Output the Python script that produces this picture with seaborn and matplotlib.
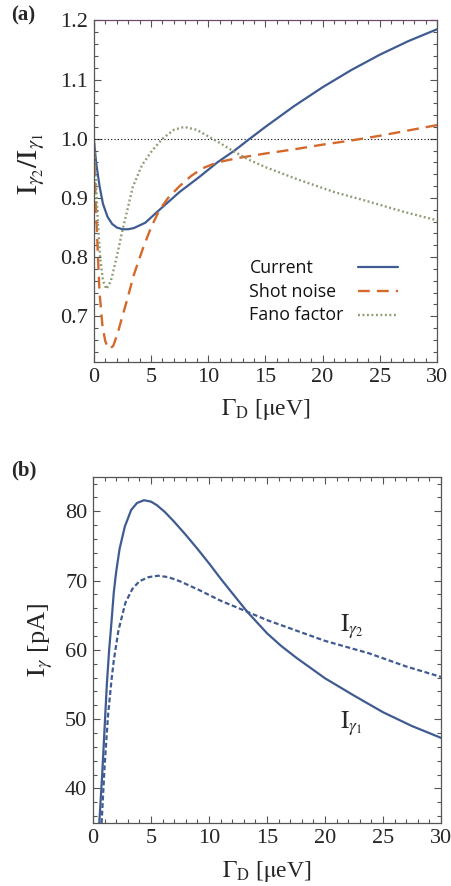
import numpy as np
import pandas as pd
import seaborn as sns
import matplotlib
matplotlib.use('Agg')
import matplotlib.pyplot as plt
from matplotlib.ticker import MultipleLocator, FormatStrFormatter

# ---------------- data ----------------
cur_x = [0, 0.2, 0.5, 0.8, 1.2, 1.6, 2.0, 2.5, 3.0, 3.5, 4.5, 5.75, 7.5, 9.2,
         10.8, 12.3, 13.5, 15, 17.5, 20, 22.5, 25, 27.5, 30]
cur_y = [1.0, 0.96, 0.92, 0.89, 0.868, 0.856, 0.85, 0.847, 0.847, 0.849, 0.858,
         0.88, 0.91, 0.935, 0.96, 0.98, 0.998, 1.02, 1.055, 1.087, 1.116, 1.142,
         1.165, 1.185]

sn_x = [0, 0.15, 0.3, 0.5, 0.75, 1.0, 1.2, 1.4, 1.7, 2.1, 2.5, 2.9, 3.5, 4.3,
        5.0, 5.75, 6.5, 7.5, 8.5, 9.5, 10.8, 12.5, 15, 17.5, 20, 22.5, 25, 27.5, 30]
sn_y = [0.99, 0.9, 0.83, 0.74, 0.685, 0.658, 0.648, 0.645, 0.65, 0.672, 0.7,
        0.727, 0.77, 0.815, 0.85, 0.88, 0.9, 0.92, 0.937, 0.95, 0.96, 0.967,
        0.975, 0.982, 0.99, 0.997, 1.005, 1.014, 1.023]

fa_x = [0, 0.15, 0.35, 0.55, 0.8, 1.1, 1.5, 2.0, 2.5, 3.0, 3.4, 4.2, 5.1, 6.0,
        7.0, 7.9, 9.0, 10.0, 11.0, 12.1, 13.5, 15, 18, 21, 23.8, 27, 30]
fa_y = [1.0, 0.94, 0.86, 0.8, 0.76, 0.746, 0.76, 0.8, 0.845, 0.885, 0.918, 0.955,
        0.98, 1.0, 1.015, 1.02, 1.015, 1.004, 0.993, 0.98, 0.965, 0.952, 0.93,
        0.91, 0.895, 0.877, 0.862]

g1_x = [0.55, 0.8, 1.0, 1.2, 1.4, 1.6, 1.8, 2.0, 2.3, 2.75, 3.3, 3.8, 4.4, 5.0,
        5.5, 6.2, 7.0, 8.0, 9.0, 10, 11, 12, 13.3, 15, 16.2, 17.5, 20, 22.5, 25,
        27.5, 30]
g1_y = [35, 42, 48.5, 55, 60, 64, 68.3, 71.2, 74.6, 77.8, 80.2, 81.2, 81.6, 81.4,
        80.9, 79.9, 78.5, 76.6, 74.6, 72.5, 70.3, 68.2, 65.5, 62.4, 60.6, 58.9,
        55.9, 53.4, 51.0, 49.0, 47.3]

g2_x = [0.75, 1.0, 1.3, 1.6, 1.8, 2.2, 2.8, 3.4, 4.0, 4.8, 5.6, 6.5, 7.5, 9.2,
        11, 13.3, 15, 17.5, 20, 23.8, 27, 30]
g2_y = [35, 43, 50.5, 55.6, 58.5, 62.8, 66.8, 68.8, 69.9, 70.5, 70.7, 70.5, 69.9,
        68.6, 67.1, 65.5, 64.3, 62.8, 61.3, 59.5, 57.6, 56.1]

legend_labels = ["Current", "Shot noise", "Fano factor"]

# ---------------- style ----------------
sns.set_theme(style='ticks')
plt.rcParams['font.family'] = ['Liberation Serif', 'DejaVu Serif']
plt.rcParams['mathtext.fontset'] = 'stix'

BLUE = '#3f5b92'
ORANGE = '#d5692c'
GREEN = '#8c9c74'
SPINE = '#555555'

fig = plt.figure(figsize=(4.51, 8.86), dpi=100)
axa = fig.add_axes([0.208, 0.591, 0.761, 0.386])
axb = fig.add_axes([0.206, 0.071, 0.772, 0.391])

df_cur = pd.DataFrame({'x': cur_x, 'y': cur_y})
df_sn = pd.DataFrame({'x': sn_x, 'y': sn_y})
df_fa = pd.DataFrame({'x': fa_x, 'y': fa_y})

axa.axhline(1.0, color='black', lw=0.8, ls=(0, (1, 2)), zorder=1)
sns.lineplot(data=df_cur, x='x', y='y', ax=axa, color=BLUE, lw=1.6,
             label=legend_labels[0], sort=False)
sns.lineplot(data=df_sn, x='x', y='y', ax=axa, color=ORANGE, lw=1.7,
             label=legend_labels[1], sort=False)
sns.lineplot(data=df_fa, x='x', y='y', ax=axa, color=GREEN, lw=1.7,
             label=legend_labels[2], sort=False)
lines = axa.get_lines()
lines[2].set_linestyle((0, (5, 3)))
lines[3].set_linestyle((0, (0.8, 1.1)))

axa.set_xlim(0, 30)
axa.set_ylim(0.622, 1.2)

df_g1 = pd.DataFrame({'x': g1_x, 'y': g1_y})
df_g2 = pd.DataFrame({'x': g2_x, 'y': g2_y})
sns.lineplot(data=df_g1, x='x', y='y', ax=axb, color=BLUE, lw=1.6, sort=False)
sns.lineplot(data=df_g2, x='x', y='y', ax=axb, color=BLUE, lw=1.6, sort=False)
axb.get_lines()[1].set_linestyle((0, (2.2, 1.2)))
axb.set_xlim(0, 30)
axb.set_ylim(35, 85)

for ax in (axa, axb):
    ax.xaxis.set_major_locator(MultipleLocator(5))
    ax.xaxis.set_minor_locator(MultipleLocator(1))
    ax.tick_params(which='both', direction='in', top=True, right=True,
                   color=SPINE, labelsize=16, width=0.8, pad=4)
    ax.tick_params(which='major', length=5)
    ax.tick_params(which='minor', length=2.8)
    for s in ax.spines.values():
        s.set_color(SPINE)
        s.set_linewidth(0.9)
    ax.set_xlabel(r'$\Gamma_{\mathrm{D}}$ [$\mathrm{\mu}$eV]', fontsize=17)

axa.spines['top'].set_color('#6a4a68')
axa.yaxis.set_major_locator(MultipleLocator(0.1))
axa.yaxis.set_minor_locator(MultipleLocator(0.02))
axa.yaxis.set_major_formatter(FormatStrFormatter('%.1f'))
axb.yaxis.set_major_locator(MultipleLocator(10))
axb.yaxis.set_minor_locator(MultipleLocator(2))

axa.set_ylabel(r'$\mathrm{I}_{\gamma_2}/\mathrm{I}_{\gamma_1}$', fontsize=21)
axb.set_ylabel(r'$\mathrm{I}_{\gamma}$ [pA]', fontsize=19)
axa.yaxis.set_label_coords(-0.135, 0.58)
axb.yaxis.set_label_coords(-0.11, 0.53)
axa.xaxis.set_label_coords(0.5, -0.10)
axb.xaxis.set_label_coords(0.5, -0.105)

# legend: labels as text, handles in a legend with blank labels
handles, _ = axa.get_legend_handles_labels()
leg = axa.legend(handles, [' ', ' ', ' '], loc='center left',
                 bbox_to_anchor=(0.745, 0.204), frameon=False,
                 handlelength=2.3, handletextpad=0.0, labelspacing=0.45,
                 fontsize=12.5, borderpad=0)
legend_y = [0.781, 0.741, 0.702]
for lab, yy in zip(legend_labels, legend_y):
    axa.text(13.6, yy, lab, fontsize=12.8, family='Open Sans', va='center',
             ha='left', color='#111111')

axb.text(21.3, 63.3, r'$\mathrm{I}_{\gamma_2}$', fontsize=18, va='center')
axb.text(21.3, 49.4, r'$\mathrm{I}_{\gamma_1}$', fontsize=18, va='center')

fig.text(0.025, 0.982, '(a)', fontsize=15, fontweight='bold', va='center')
fig.text(0.025, 0.469, '(b)', fontsize=15, fontweight='bold', va='center')

fig.savefig('out.png', dpi=100)
